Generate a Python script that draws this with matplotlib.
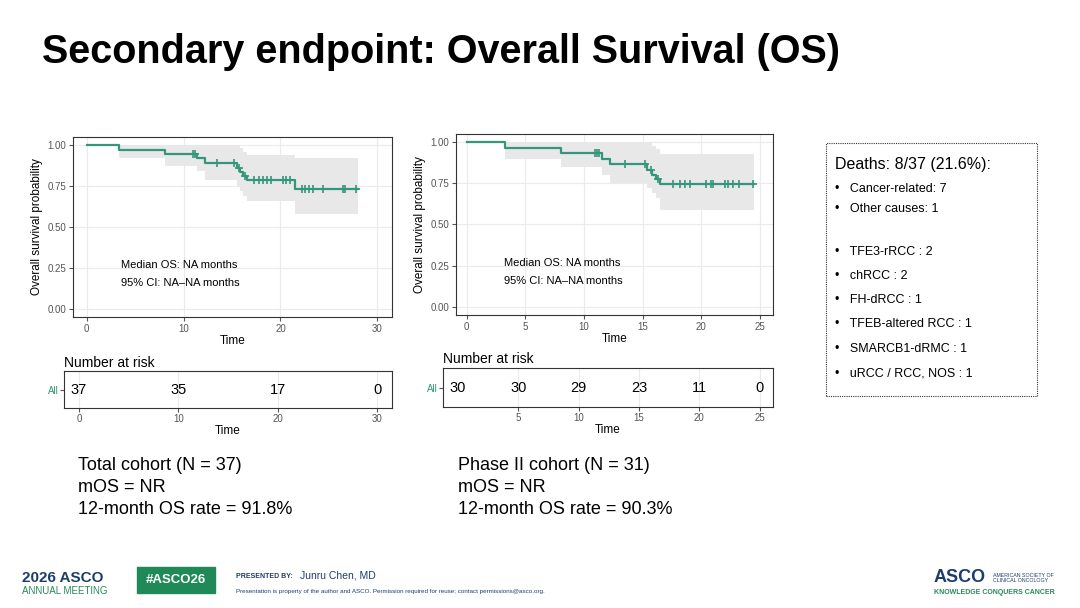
import numpy as np
import matplotlib.pyplot as plt
from matplotlib.patches import Rectangle

plt.rcParams['font.family'] = ['Liberation Sans', 'DejaVu Sans']

GREEN = '#34967a'
BAND = '#e8e8e8'

# total cohort KM (event times and survival after each step)
t1_time = [0, 3.3, 8.1, 11.4, 12.2, 15.5, 15.8, 16.1, 16.5, 21.5, 28.0]
t1_surv = [1.0, 0.973, 0.946, 0.919, 0.891, 0.862, 0.835, 0.81, 0.79, 0.735, 0.735]
t1_lo = [1.0, 0.92, 0.87, 0.84, 0.79, 0.75, 0.72, 0.69, 0.66, 0.58, 0.58]
t1_hi = [1.0, 1.0, 1.0, 1.0, 1.0, 1.0, 0.98, 0.96, 0.94, 0.92, 0.92]
t1_cens = [11.0, 11.2, 13.5, 15.2, 15.7, 16.3, 17.3, 17.8, 18.2, 18.6, 19.0, 20.3,
           20.6, 21.0, 22.2, 22.5, 22.9, 23.4, 24.4, 26.4, 26.7, 27.8]
t1_risk_t = [0, 10, 20, 30]
t1_risk_n = [37, 35, 17, 0]

# phase II cohort KM
t2_time = [0, 3.3, 8.05, 11.5, 12.2, 15.4, 15.8, 16.1, 16.5, 24.5]
t2_surv = [1.0, 0.967, 0.933, 0.90, 0.867, 0.833, 0.80, 0.775, 0.745, 0.745]
t2_lo = [1.0, 0.90, 0.85, 0.80, 0.75, 0.72, 0.69, 0.66, 0.59, 0.59]
t2_hi = [1.0, 1.0, 1.0, 1.0, 1.0, 1.0, 0.98, 0.96, 0.93, 0.93]
t2_cens = [10.9, 11.1, 11.3, 13.5, 15.2, 15.7, 16.3, 17.6, 18.2, 18.6, 19.0, 20.4,
           20.8, 21.0, 22.0, 22.3, 22.7, 23.2, 24.4]
t2_risk_t = [0, 5, 10, 15, 20, 25]
t2_risk_n = [30, 30, 29, 23, 11, 0]

deaths_lines = ['Cancer-related: 7', 'Other causes: 1',
                'TFE3-rRCC : 2', 'chRCC : 2', 'FH-dRCC : 1',
                'TFEB-altered RCC : 1', 'SMARCB1-dRMC : 1', 'uRCC / RCC, NOS : 1']
deaths_y = [189, 209, 252, 276, 300, 324, 349, 373]

W, H = 1080, 608
fig = plt.figure(figsize=(10.8, 6.08), dpi=100)


def ax_px(x0, y0, x1, y1):
    return fig.add_axes([x0 / W, 1 - y1 / H, (x1 - x0) / W, (y1 - y0) / H])


def km_panel(box, t, s, lo, hi, cens, xlim, xticks):
    ax = ax_px(*box)
    ax.fill_between(t, lo, hi, step='post', color=BAND, lw=0)
    ax.step(t, s, where='post', color=GREEN, lw=1.6)
    cy = [s[np.searchsorted(t, c, side='right') - 1] for c in cens]
    ax.plot(cens, cy, '+', color=GREEN, ms=6, mew=1.2)
    ax.set_xlim(*xlim)
    ax.set_ylim(-0.05, 1.05)
    ax.set_xticks(xticks)
    ax.set_yticks([0, 0.25, 0.5, 0.75, 1.0])
    ax.set_yticklabels(['0.00', '0.25', '0.50', '0.75', '1.00'])
    ax.grid(color='#ebebeb', lw=0.8)
    ax.set_axisbelow(True)
    ax.tick_params(labelsize=7, colors='#555555', length=3, pad=2)
    for sp in ax.spines.values():
        sp.set_color('#333333')
    ax.set_xlabel('Time', fontsize=8.5, labelpad=1)
    ax.set_ylabel('Overall survival probability', fontsize=8.5, labelpad=3)
    ax.text(0.15, 0.27, 'Median OS: NA months', transform=ax.transAxes, fontsize=8)
    ax.text(0.15, 0.17, '95% CI: NA\u2013NA months', transform=ax.transAxes, fontsize=8)
    return ax


def risk_panel(box, rt, rn, xlim, xticks):
    ax = ax_px(*box)
    for x, n in zip(rt, rn):
        ax.text(x, 0.5, str(n), ha='center', va='center', fontsize=10.5)
    ax.set_xlim(*xlim)
    ax.set_ylim(0, 1)
    ax.set_xticks(xticks)
    ax.set_yticks([0.5])
    ax.set_yticklabels(['All'])
    ax.grid(axis='x', color='#ebebeb', lw=0.8)
    ax.tick_params(labelsize=7, colors='#555555', length=3, pad=1)
    ax.get_yticklabels()[0].set_color(GREEN)
    for sp in ax.spines.values():
        sp.set_color('#333333')
    ax.set_xlabel('Time', fontsize=8.5, labelpad=1)
    ax.text(0, 1.12, 'Number at risk', transform=ax.transAxes, fontsize=10)
    return ax


km_panel((73, 137, 392, 317), t1_time, t1_surv, t1_lo, t1_hi, t1_cens, (-1.4, 31.5), [0, 10, 20, 30])
risk_panel((64, 371, 392, 408), t1_risk_t, t1_risk_n, (-1.5, 31.5), [0, 10, 20, 30])
km_panel((456, 134, 773, 315), t2_time, t2_surv, t2_lo, t2_hi, t2_cens, (-0.9, 26.1), [0, 5, 10, 15, 20, 25])
risk_panel((443, 368, 773, 407), t2_risk_t, t2_risk_n, (-1.25, 26.1), [5, 10, 15, 20, 25])

# slide texts
fig.text(42 / W, 1 - 52 / H, 'Secondary endpoint: Overall Survival (OS)', fontsize=28.5,
         fontweight='bold', va='center')
for i, line in enumerate(['Total cohort (N = 37)', 'mOS = NR', '12-month OS rate = 91.8%']):
    fig.text(78 / W, 1 - (465 + i * 22) / H, line, fontsize=13, va='center')
for i, line in enumerate(['Phase II cohort (N = 31)', 'mOS = NR', '12-month OS rate = 90.3%']):
    fig.text(458 / W, 1 - (465 + i * 22) / H, line, fontsize=13, va='center')

# deaths box
fig.patches.append(Rectangle((826 / W, 1 - 396 / H), 211 / W, 253 / H, transform=fig.transFigure,
                             fill=False, ls=(0, (1, 1)), lw=0.8, ec='#333333'))
fig.text(835 / W, 1 - 164 / H, 'Deaths: 8/37 (21.6%):', fontsize=11.5, va='center')
for line, y in zip(deaths_lines, deaths_y):
    fig.text(835 / W, 1 - y / H, '\u2022   ' + line, fontsize=9, va='center')

# footer
fig.text(22 / W, 1 - 578 / H, '2026 ASCO', fontsize=11, fontweight='bold', color='#1d3d6e', va='center')
fig.text(22 / W, 1 - 591 / H, 'ANNUAL MEETING', fontsize=7, color='#2a8a5a', va='center')
fig.patches.append(Rectangle((137 / W, 1 - 593 / H), 78 / W, 26 / H, transform=fig.transFigure,
                             color='#1f8a57'))
fig.text(176 / W, 1 - 580 / H, '#ASCO26', fontsize=9.5, fontweight='bold', color='white',
         ha='center', va='center')
fig.text(236 / W, 1 - 576 / H, 'PRESENTED BY:', fontsize=5, fontweight='bold', color='#1d3d6e', va='center')
fig.text(300 / W, 1 - 575 / H, 'Junru Chen, MD', fontsize=7.5, color='#1d3d6e', va='center')
fig.text(236 / W, 1 - 591 / H, 'Presentation is property of the author and ASCO. Permission required for reuse; '
         'contact permissions@asco.org.', fontsize=4.5, color='#1d3d6e', va='center')
fig.text(934 / W, 1 - 578 / H, 'ASCO', fontsize=13, fontweight='bold', color='#1d3d6e', va='center')
fig.text(993 / W, 1 - 578 / H, 'AMERICAN SOCIETY OF\nCLINICAL ONCOLOGY', fontsize=3.8, color='#1d3d6e',
         va='center', linespacing=1.1)
fig.text(934 / W, 1 - 592 / H, 'KNOWLEDGE CONQUERS CANCER', fontsize=5, fontweight='bold',
         color='#2a8a5a', va='center')

fig.savefig('out.png', dpi=100)
